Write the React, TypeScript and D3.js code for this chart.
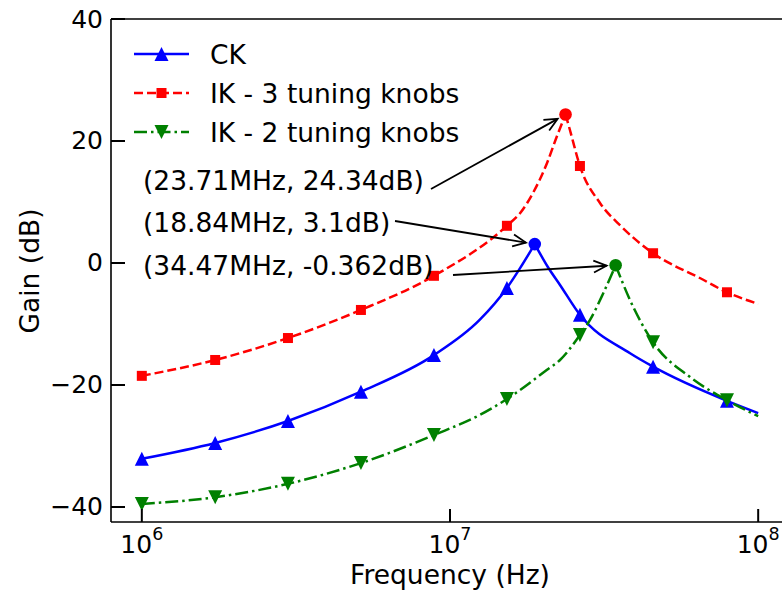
import React from "react";
import * as d3 from "d3";

// ---- data (frequency in MHz, gain in dB) ----
const ckFreqMHz = [1.0, 1.73, 2.98, 5.14, 8.87, 12.5, 15.3, 16.9, 18.84, 20.8, 22.75, 26.4, 38.4, 45.6, 79.2, 100];
const ckGain = [-32.1, -29.5, -25.9, -21.1, -15.1, -9.3, -4.1, -0.8, 3.1, -0.7, -3.6, -8.5, -14.8, -17.0, -22.6, -24.6];

const ik3FreqMHz = [1.0, 1.73, 2.98, 5.14, 8.87, 15.3, 16.9, 18.6, 20.65, 22.2, 23.71, 24.5, 26.4, 30.7, 35.6, 45.6, 64.9, 79.2, 100];
const ik3Gain = [-18.5, -15.9, -12.3, -7.7, -2.1, 6.1, 8.2, 11.5, 16.4, 20.7, 24.34, 21.8, 15.9, 9.8, 6.2, 1.6, -2.5, -4.8, -6.7];

const ik2FreqMHz = [1.0, 1.73, 2.98, 5.14, 8.87, 12.5, 15.3, 20.65, 22.75, 26.4, 28.5, 31.4, 34.47, 38.4, 45.6, 60.1, 79.2, 100];
const ik2Gain = [-39.5, -38.4, -36.2, -32.8, -28.2, -24.9, -22.3, -17.5, -15.9, -11.8, -9.3, -5.0, -0.362, -6.1, -13.0, -18.7, -22.5, -25.1];

const markerFreqMHz = [1.0, 1.73, 2.98, 5.14, 8.87, 15.3, 26.4, 45.6, 79.2];
const ckMarkGain = [-32.1, -29.5, -25.9, -21.1, -15.1, -4.1, -8.5, -17.0, -22.6];
const ik3MarkGain = [-18.5, -15.9, -12.3, -7.7, -2.1, 6.1, 15.9, 1.6, -4.8];
const ik2MarkGain = [-39.5, -38.4, -36.2, -32.8, -28.2, -22.3, -11.8, -13.0, -22.5];

const peakFreqMHz = [23.71, 18.84, 34.47];
const peakGain = [24.34, 3.1, -0.362];
const peakLabels = ["(23.71MHz, 24.34dB)", "(18.84MHz, 3.1dB)", "(34.47MHz, -0.362dB)"];
const peakColors = ["#ff0000", "#0000ff", "#008000"];

const seriesNames = ["CK", "IK - 3 tuning knobs", "IK - 2 tuning knobs"];
const yTicks = [-40, -20, 0, 20, 40];
const xTickExps = [6, 7, 8];

const W = 782;
const H = 592;
const FONT = "DejaVu Sans, Verdana, sans-serif";
const FS = 26.5;

const x = d3.scaleLog().domain([Math.pow(10, 5.9), Math.pow(10, 8.1)]).range([111, 789]);
const y = d3.scaleLinear().domain([-42.46, 40]).range([522, 19]);

type Pt = [number, number];

function splitPaths(freqs: number[], gains: number[]): string[] {
  const pts: Pt[] = freqs.map((f, i) => [x(f * 1e6), y(gains[i])]);
  let pk = 0;
  gains.forEach((g, i) => {
    if (g > gains[pk]) pk = i;
  });
  const line = d3.line<Pt>().x((d) => d[0]).y((d) => d[1]).curve(d3.curveMonotoneX);
  return [line(pts.slice(0, pk + 1)) || "", line(pts.slice(pk)) || ""];
}

function triUp(cx: number, cy: number, s = 7) {
  return `M${cx},${cy - s}L${cx - s},${cy + s}L${cx + s},${cy + s}Z`;
}
function triDown(cx: number, cy: number, s = 7) {
  return `M${cx},${cy + s}L${cx - s},${cy - s}L${cx + s},${cy - s}Z`;
}

const series = [
  { name: seriesNames[0], color: "#0000ff", dash: "none", freqs: ckFreqMHz, gains: ckGain, marks: ckMarkGain, marker: "up" },
  { name: seriesNames[1], color: "#ff0000", dash: "9,4", freqs: ik3FreqMHz, gains: ik3Gain, marks: ik3MarkGain, marker: "sq" },
  { name: seriesNames[2], color: "#008000", dash: "13,4,2.5,4", freqs: ik2FreqMHz, gains: ik2Gain, marks: ik2MarkGain, marker: "down" },
];

function Marker({ kind, cx, cy, color }: { kind: string; cx: number; cy: number; color: string }) {
  if (kind === "up") return <path d={triUp(cx, cy)} fill={color} />;
  if (kind === "down") return <path d={triDown(cx, cy)} fill={color} />;
  return <rect x={cx - 5} y={cy - 5} width={10} height={10} fill={color} />;
}

// annotation text/arrow layout (pixels)
const annTextY = [190, 232, 275];
const annArrowStart: Pt[] = [[431, 189], [395, 221], [453, 275]];

function arrow(start: Pt, target: Pt, shrink: number) {
  const dx = target[0] - start[0];
  const dy = target[1] - start[1];
  const len = Math.hypot(dx, dy);
  const ux = dx / len;
  const uy = dy / len;
  const tip: Pt = [target[0] - ux * shrink, target[1] - uy * shrink];
  const hl = 13;
  const hw = 6;
  const bx = tip[0] - ux * hl;
  const by = tip[1] - uy * hl;
  const p1: Pt = [bx - uy * hw, by + ux * hw];
  const p2: Pt = [bx + uy * hw, by - ux * hw];
  return {
    line: `M${start[0]},${start[1]}L${tip[0]},${tip[1]}`,
    head: `M${p1[0]},${p1[1]}L${tip[0]},${tip[1]}L${p2[0]},${p2[1]}`,
  };
}

export default function App() {
  return (
    <div style={{ position: "absolute", left: 0, top: 0 }}>
      <svg width={W} height={H} style={{ display: "block", background: "#fff" }} fontFamily={FONT}>
        <rect x={0} y={0} width={W} height={H} fill="#fff" />
        {/* series */}
        {series.map((s) => {
          const [a, b] = splitPaths(s.freqs, s.gains);
          return (
            <g key={s.name}>
              <path d={a} fill="none" stroke={s.color} strokeWidth={2.5} strokeDasharray={s.dash} />
              <path d={b} fill="none" stroke={s.color} strokeWidth={2.5} strokeDasharray={s.dash} />
              {markerFreqMHz.map((f, i) => (
                <Marker key={i} kind={s.marker} cx={x(f * 1e6)} cy={y(s.marks[i])} color={s.color} />
              ))}
            </g>
          );
        })}
        {/* peak points */}
        {peakFreqMHz.map((f, i) => (
          <circle key={i} cx={x(f * 1e6)} cy={y(peakGain[i])} r={6.3} fill={peakColors[i]} />
        ))}
        {/* annotations */}
        {peakFreqMHz.map((f, i) => {
          const a = arrow(annArrowStart[i], [x(f * 1e6), y(peakGain[i])], 9);
          return (
            <g key={i}>
              <text x={143} y={annTextY[i]} fontSize={FS} fill="#000">
                {peakLabels[i]}
              </text>
              <path d={a.line} stroke="#000" strokeWidth={1.8} fill="none" />
              <path d={a.head} stroke="#000" strokeWidth={1.8} fill="none" />
            </g>
          );
        })}
        {/* spines */}
        <line x1={111} y1={19} x2={111} y2={522} stroke="#000" strokeWidth={1.6} />
        <line x1={111} y1={522} x2={789} y2={522} stroke="#000" strokeWidth={1.6} />
        <line x1={111} y1={19} x2={789} y2={19} stroke="#000" strokeWidth={1.6} />
        {/* y ticks */}
        {yTicks.map((t) => (
          <g key={t}>
            <line x1={111} x2={125} y1={y(t)} y2={y(t)} stroke="#000" strokeWidth={2} />
            <text x={103} y={y(t)} fontSize={25} textAnchor="end" dominantBaseline="central" fill="#000">
              {t < 0 ? "\u2212" + Math.abs(t) : String(t)}
            </text>
          </g>
        ))}
        {/* x ticks */}
        {xTickExps.map((e) => (
          <g key={e}>
            <line x1={x(Math.pow(10, e))} x2={x(Math.pow(10, e))} y1={522} y2={509} stroke="#000" strokeWidth={2} />
            <text x={x(Math.pow(10, e))} y={553} fontSize={25} textAnchor="middle" fill="#000">
              <tspan>10</tspan>
              <tspan dy={-13} fontSize={17.5}>{String(e)}</tspan>
            </text>
          </g>
        ))}
        {/* axis labels */}
        <text x={450} y={584} fontSize={FS} textAnchor="middle" fill="#000">
          Frequency (Hz)
        </text>
        <text transform="translate(39,271) rotate(-90)" fontSize={FS} textAnchor="middle" fill="#000">
          Gain (dB)
        </text>
        {/* legend */}
        {series.map((s, i) => {
          const ly = 54 + i * 39;
          return (
            <g key={s.name}>
              <line x1={134} x2={189} y1={ly} y2={ly} stroke={s.color} strokeWidth={2.5} strokeDasharray={s.dash} />
              <Marker kind={s.marker} cx={161.5} cy={ly} color={s.color} />
              <text x={210} y={ly} fontSize={FS} dominantBaseline="central" fill="#000">
                {s.name}
              </text>
            </g>
          );
        })}
      </svg>
    </div>
  );
}
